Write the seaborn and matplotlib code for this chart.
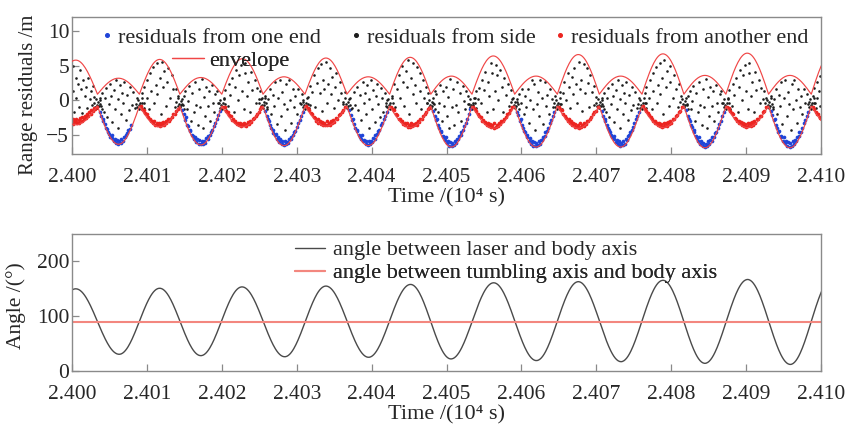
import numpy as np
import pandas as pd
import matplotlib
matplotlib.use("Agg")
import matplotlib.pyplot as plt
from matplotlib.lines import Line2D
import seaborn as sns

# All times are seconds after 24000 s (axis shows 10^4 s), residuals in metres.

# black points: residuals from side
side_pts = [
    (0.1, 4.9), (0.2, 1.3), (0.3, -1.6), (0.5, 3.2), (0.6, 0.4), (0.8, 2.4), (0.9, -0.9), (1.1, 4.4), (1.2, 1.6), (1.4, -1.8),
    (1.5, 3.0), (1.7, 0.7), (1.9, 2.0), (2.0, -1.1), (2.2, 3.3), (2.4, 0.2), (2.5, 1.4), (2.7, -0.6), (2.8, 2.1), (3.0, 0.5),
    (3.7, 0.1), (3.85, -0.8), (4.0, 1.0), (4.25, -1.6), (4.4, 0.4), (4.55, 1.8), (4.7, -2.4), (4.9, -0.5), (5.1, 2.4), (5.2, 0.7),
    (5.4, -3.1), (5.6, 1.5), (5.75, -1.2), (5.9, 3.0), (6.1, -3.9), (6.2, 0.2), (6.4, 2.2), (6.55, -2.0), (6.7, 1.1), (6.85, -0.3),
    (7.0, 2.7), (7.2, -2.8), (7.35, 0.8), (7.6, -1.4), (7.75, 1.9), (7.95, -0.6), (8.2, 1.2), (8.4, -1.1), (8.7, 0.4),
    (9.35, 1.1), (9.55, -0.4), (9.6, 1.9), (9.95, 0.3), (10.05, 2.9), (10.3, -1.2), (10.45, 3.9), (10.5, 1.4), (10.85, 4.8), (11.0, -0.3),
    (11.15, 2.2), (11.35, 5.4), (11.4, 0.9), (11.7, 3.3), (11.85, -1.9), (12.0, 5.5), (12.2, 1.9), (12.3, 4.2), (12.55, -0.8), (12.75, 2.7),
    (12.8, 4.6), (13.1, 0.4), (13.3, 3.6), (13.55, 1.6), (13.75, -0.9), (13.95, 1.6), (14.2, 0.7),
    (14.75, -0.5), (14.9, 0.6), (15.15, 1.4), (15.3, -1.2), (15.5, -0.1), (15.65, 2.1), (15.85, -2.9), (16.0, 1.0), (16.3, -1.7), (16.45, 2.7),
    (16.55, -0.6), (16.8, -3.6), (16.95, 1.6), (17.05, -1.0), (17.3, 3.1), (17.45, -4.0), (17.6, 0.5), (17.8, -2.3), (17.9, 2.0), (18.1, -0.8),
    (18.25, 1.3), (18.45, -3.0), (18.65, 2.2), (18.8, -0.3), (19.0, -1.7), (19.15, 0.9), (19.4, 1.4), (19.6, -0.4),
    (20.3, 0.2), (20.45, 1.5), (20.8, -0.8), (20.9, 2.4), (21.15, 0.8), (21.4, 3.3), (21.6, -1.6), (21.75, 2.0), (21.9, 4.4), (22.2, 0.1),
    (22.3, 3.6), (22.5, 5.1), (22.65, 1.3), (22.9, -1.2), (23.05, 3.9), (23.15, 5.4), (23.4, 0.6), (23.5, 2.6), (23.7, -1.7), (23.9, 4.1),
    (24.05, 1.5), (24.4, 2.9), (24.5, -0.3), (24.7, 1.8), (24.9, 0.2), (25.1, 1.4), (25.35, 0.3),
    (25.8, 0.6), (26.05, -0.9), (26.2, 0.2), (26.45, 1.7), (26.6, -1.9), (26.85, 0.8), (27.0, -0.8), (27.15, 2.6), (27.35, -3.4), (27.5, 0.3),
    (27.75, 2.9), (27.9, -2.2), (28.1, 1.2), (28.25, -0.5), (28.45, -4.2), (28.6, 2.4), (28.75, -1.3), (28.95, 3.0), (29.1, 0.1), (29.25, -3.2),
    (29.45, 1.6), (29.65, -1.0), (29.8, 0.6), (30.0, -2.0), (30.2, 1.7), (30.4, -0.4), (30.65, 0.9), (30.85, -0.2),
    (31.5, 0.5), (31.75, 2.1), (31.8, -0.6), (32.1, 1.2), (32.3, 3.6), (32.45, -1.0), (32.65, 2.5), (32.8, 4.6), (33.05, 1.0), (33.2, 5.2),
    (33.35, -1.5), (33.55, 3.0), (33.7, 1.7), (33.85, 5.6), (34.05, -0.4), (34.2, 2.3), (34.45, 4.7), (34.55, 0.9), (34.75, 3.4), (35.0, -1.1),
    (35.1, 2.0), (35.3, 4.0), (35.55, 0.1), (35.75, 2.6), (35.95, 1.0), (36.15, -0.5), (36.4, 1.2),
    (42.1, 0.1), (41.95, -0.8), (41.8, 1.0), (41.55, -1.6), (41.4, 0.4), (41.25, 1.8), (41.1, -2.4), (40.9, -0.5), (40.7, 2.4), (40.6, 0.7),
    (40.4, -3.1), (40.2, 1.5), (40.05, -1.2), (39.9, 3.0), (39.7, -3.9), (39.6, 0.2), (39.4, 2.2), (39.25, -2.0), (39.1, 1.1), (38.95, -0.3),
    (38.8, 2.7), (38.6, -2.8), (38.45, 0.8), (38.2, -1.4), (38.05, 1.9), (37.85, -0.6), (37.6, 1.2), (37.4, -1.1), (37.1, 0.4),
    (47.55, 1.1), (47.35, -0.4), (47.3, 1.9), (46.95, 0.3), (46.85, 2.9), (46.6, -1.2), (46.45, 3.9), (46.4, 1.4), (46.05, 4.8), (45.9, -0.3),
    (45.75, 2.2), (45.55, 5.4), (45.5, 0.9), (45.2, 3.3), (45.05, -1.9), (44.9, 5.8), (44.7, 1.9), (44.6, 4.2), (44.35, -0.8), (44.15, 2.7),
    (44.1, 4.9), (43.8, 0.4), (43.6, 3.6), (43.35, 1.6), (43.15, -0.9), (42.95, 2.4), (42.7, 0.7),
    (53.05, -0.5), (52.9, 0.6), (52.65, 1.4), (52.5, -1.2), (52.3, -0.1), (52.15, 2.1), (51.95, -2.9), (51.8, 1.0), (51.5, -1.7), (51.35, 2.7),
    (51.25, -0.6), (51.0, -3.6), (50.85, 1.6), (50.75, -1.0), (50.5, 3.1), (50.35, -4.0), (50.2, 0.5), (50.0, -2.3), (49.9, 2.0), (49.7, -0.8),
    (49.55, 1.3), (49.35, -3.0), (49.15, 2.2), (49.0, -0.3), (48.8, -1.7), (48.65, 0.9), (48.4, 1.4), (48.2, -0.4),
    (58.8, 0.2), (58.65, 1.5), (58.3, -0.8), (58.2, 2.4), (57.95, 0.8), (57.7, 3.3), (57.5, -1.6), (57.35, 2.0), (57.2, 4.4), (56.9, 0.1),
    (56.8, 3.6), (56.6, 5.1), (56.45, 1.3), (56.2, -1.2), (56.05, 3.9), (55.95, 5.4), (55.7, 0.6), (55.6, 2.6), (55.4, -1.7), (55.2, 4.1),
    (55.05, 1.5), (54.7, 2.9), (54.6, -0.3), (54.4, 1.8), (54.2, 0.2), (54.0, 1.4), (53.75, 0.3),
    (64.5, 0.6), (64.25, -0.9), (64.1, 0.2), (63.85, 1.7), (63.7, -1.9), (63.45, 0.8), (63.3, -0.8), (63.15, 2.6), (62.95, -3.4), (62.8, 0.3),
    (62.55, 2.9), (62.4, -2.2), (62.2, 1.2), (62.05, -0.5), (61.85, -4.2), (61.7, 2.4), (61.55, -1.3), (61.35, 3.0), (61.2, 0.1), (61.05, -3.2),
    (60.85, 1.6), (60.65, -1.0), (60.5, 0.6), (60.3, -2.0), (60.1, 1.7), (59.9, -0.4), (59.65, 0.9), (59.45, -0.2),
    (70.0, 0.5), (69.75, 2.1), (69.7, -0.6), (69.4, 1.2), (69.2, 3.6), (69.05, -1.0), (68.85, 2.5), (68.7, 4.6), (68.45, 1.0), (68.3, 5.2),
    (68.15, -1.5), (67.95, 3.0), (67.8, 1.7), (67.65, 5.6), (67.45, -0.4), (67.3, 2.3), (67.05, 4.7), (66.95, 0.9), (66.75, 3.4), (66.5, -1.1),
    (66.4, 2.0), (66.2, 4.0), (65.95, 0.1), (65.75, 2.6), (65.55, 1.0), (65.35, -0.5), (65.1, 1.2),
    (70.7, 0.1), (70.85, -0.8), (71.0, 1.0), (71.25, -1.6), (71.4, 0.4), (71.55, 1.8), (71.7, -2.4), (71.9, -0.5), (72.1, 2.4), (72.2, 0.7),
    (72.4, -3.1), (72.6, 1.5), (72.75, -1.2), (72.9, 3.0), (73.1, -3.9), (73.2, 0.2), (73.4, 2.2), (73.55, -2.0), (73.7, 1.1), (73.85, -0.3),
    (74.0, 2.7), (74.2, -2.8), (74.35, 0.8), (74.6, -1.4), (74.75, 1.9), (74.95, -0.6), (75.2, 1.2), (75.4, -1.1), (75.7, 0.4),
    (76.45, 1.1), (76.65, -0.4), (76.7, 1.9), (77.05, 0.3), (77.15, 2.9), (77.4, -1.2), (77.55, 3.9), (77.6, 1.4), (77.95, 4.8), (78.1, -0.3),
    (78.25, 2.2), (78.45, 5.4), (78.5, 0.9), (78.8, 3.3), (78.95, -1.9), (79.1, 5.8), (79.3, 1.9), (79.4, 4.2), (79.65, -0.8), (79.85, 2.7),
    (79.9, 4.9), (80.2, 0.4), (80.4, 3.6), (80.65, 1.6), (80.85, -0.9), (81.05, 2.4), (81.3, 0.7),
    (82.05, -0.5), (82.2, 0.6), (82.45, 1.4), (82.6, -1.2), (82.8, -0.1), (82.95, 2.1), (83.15, -2.9), (83.3, 1.0), (83.6, -1.7), (83.75, 2.7),
    (83.85, -0.6), (84.1, -3.6), (84.25, 1.6), (84.35, -1.0), (84.6, 3.1), (84.75, -4.0), (84.9, 0.5), (85.1, -2.3), (85.2, 2.0), (85.4, -0.8),
    (85.55, 1.3), (85.75, -3.0), (85.95, 2.2), (86.1, -0.3), (86.3, -1.7), (86.45, 0.9), (86.7, 1.4), (86.9, -0.4),
    (87.6, 0.2), (87.75, 1.5), (88.1, -0.8), (88.2, 2.4), (88.45, 0.8), (88.7, 3.3), (88.9, -1.6), (89.05, 2.0), (89.2, 4.4), (89.5, 0.1),
    (89.6, 3.6), (89.8, 5.1), (89.95, 1.3), (90.2, -1.2), (90.35, 3.9), (90.45, 5.4), (90.7, 0.6), (90.8, 2.6), (91.0, -1.7), (91.2, 4.1),
    (91.35, 1.5), (91.7, 2.9), (91.8, -0.3), (92.0, 1.8), (92.2, 0.2), (92.4, 1.4), (92.65, 0.3),
    (93.3, 0.6), (93.55, -0.9), (93.7, 0.2), (93.95, 1.7), (94.1, -1.9), (94.35, 0.8), (94.5, -0.8), (94.65, 2.6), (94.85, -3.4), (95.0, 0.3),
    (95.25, 2.9), (95.4, -2.2), (95.6, 1.2), (95.75, -0.5), (95.95, -4.2), (96.1, 2.4), (96.25, -1.3), (96.45, 3.0), (96.6, 0.1), (96.75, -3.2),
    (96.95, 1.6), (97.15, -1.0), (97.3, 0.6), (97.5, -2.0), (97.7, 1.7), (97.9, -0.4), (98.15, 0.9), (98.35, -0.2),
    (98.9, 0.6), (99.1, 1.8), (99.2, -0.4), (99.4, 2.7), (99.5, 0.3), (99.7, 1.4), (99.8, 3.5), (99.9, -0.8),
    # dense knots where the laser is square to the body axis
    (2.9, -0.3), (3.1, -0.9), (3.2, 0.2), (3.3, -0.6), (3.4, -1.1), (3.5, -0.2), (3.6, -0.8), (3.7, 0.3), (3.8, -0.5), (4.0, -1.3),
    (8.5, -0.5), (8.7, -1.0), (8.8, 0.1), (8.9, -0.7), (9.0, -1.3), (9.1, -0.3), (9.2, -0.9), (9.3, 0.4), (9.4, -0.4), (9.6, -1.1),
    (13.9, -0.2), (14.1, -0.8), (14.2, 0.3), (14.3, -0.5), (14.4, -1.0), (14.5, -0.1), (14.6, -0.7), (14.7, 0.2), (14.8, -0.6), (15.0, -1.2),
    (19.5, -0.4), (19.7, -1.1), (19.8, 0.1), (19.9, -0.7), (20.0, -1.2), (20.1, -0.3), (20.2, -0.9), (20.3, 0.4), (20.4, -0.5), (20.6, -1.4),
    (25.0, -0.3), (25.2, -0.8), (25.3, 0.2), (25.4, -0.6), (25.5, -1.1), (25.6, -0.2), (25.7, -0.7), (25.8, 0.3), (25.9, -0.4), (26.1, -1.2),
    (30.6, -0.5), (30.8, -1.0), (30.9, 0.0), (31.0, -0.6), (31.1, -1.3), (31.2, -0.3), (31.3, -0.8), (31.4, 0.3), (31.5, -0.5), (31.7, -1.1),
    (36.2, -0.2), (36.4, -0.9), (36.5, 0.3), (36.6, -0.5), (36.7, -1.1), (36.8, -0.2), (36.9, -0.8), (37.0, 0.2), (37.1, -0.6), (37.3, -1.3),
    (41.9, -0.4), (42.1, -1.0), (42.2, 0.2), (42.3, -0.7), (42.4, -1.2), (42.5, -0.3), (42.6, -0.9), (42.7, 0.3), (42.8, -0.4), (43.0, -1.2),
    (47.4, -0.3), (47.6, -0.9), (47.7, 0.1), (47.8, -0.6), (47.9, -1.1), (48.0, -0.2), (48.1, -0.8), (48.2, 0.4), (48.3, -0.5), (48.5, -1.3),
    (52.9, -0.5), (53.1, -1.0), (53.2, 0.2), (53.3, -0.6), (53.4, -1.2), (53.5, -0.3), (53.6, -0.7), (53.7, 0.3), (53.8, -0.4), (54.0, -1.1),
    (58.6, -0.2), (58.8, -0.9), (58.9, 0.3), (59.0, -0.6), (59.1, -1.1), (59.2, -0.2), (59.3, -0.8), (59.4, 0.2), (59.5, -0.5), (59.7, -1.2),
    (64.3, -0.4), (64.5, -1.0), (64.6, 0.1), (64.7, -0.7), (64.8, -1.2), (64.9, -0.3), (65.0, -0.9), (65.1, 0.3), (65.2, -0.5), (65.4, -1.3),
    (69.9, -0.3), (70.1, -0.8), (70.2, 0.2), (70.3, -0.6), (70.4, -1.1), (70.5, -0.2), (70.6, -0.8), (70.7, 0.4), (70.8, -0.5), (71.0, -1.2),
    (75.6, -0.5), (75.8, -1.1), (75.9, 0.1), (76.0, -0.7), (76.1, -1.3), (76.2, -0.3), (76.3, -0.9), (76.4, 0.3), (76.5, -0.4), (76.7, -1.1),
    (81.2, -0.2), (81.4, -0.9), (81.5, 0.2), (81.6, -0.5), (81.7, -1.0), (81.8, -0.1), (81.9, -0.7), (82.0, 0.3), (82.1, -0.6), (82.3, -1.3),
    (86.8, -0.4), (87.0, -1.0), (87.1, 0.2), (87.2, -0.7), (87.3, -1.2), (87.4, -0.3), (87.5, -0.9), (87.6, 0.3), (87.7, -0.4), (87.9, -1.2),
    (92.5, -0.3), (92.7, -0.9), (92.8, 0.1), (92.9, -0.6), (93.0, -1.1), (93.1, -0.2), (93.2, -0.8), (93.3, 0.4), (93.4, -0.5), (93.6, -1.3),
    (98.2, -0.5), (98.4, -1.0), (98.5, 0.2), (98.6, -0.6), (98.7, -1.2), (98.8, -0.3), (98.9, -0.9), (99.0, 0.3), (99.1, -0.4), (99.3, -1.1),
]

# blue points: residuals from one end
one_end_pts = [
    (3.7, -1.6), (3.9, -2.2), (4.1, -2.6), (4.2, -2.9), (4.4, -3.4), (4.5, -3.9), (4.7, -4.1), (4.8, -4.6), (5.0, -4.8), (5.1, -5.3),
    (5.3, -5.4), (5.4, -5.0), (5.6, -5.8), (5.7, -5.5), (5.9, -6.1), (6.0, -5.7), (6.2, -6.2), (6.3, -5.9), (6.5, -6.1), (6.6, -5.6),
    (6.8, -5.9), (6.9, -5.3), (7.1, -5.2), (7.2, -4.9), (7.4, -4.7), (7.5, -4.2), (7.7, -4.1), (7.9, -3.5),
    (14.7, -1.4), (14.9, -2.0), (15.1, -2.8), (15.2, -2.4), (15.4, -3.6), (15.5, -3.7), (15.7, -4.4), (15.8, -4.3), (16.0, -5.0), (16.1, -5.1),
    (16.3, -5.6), (16.4, -5.2), (16.6, -6.0), (16.7, -5.6), (16.9, -6.2), (17.0, -5.7), (17.2, -6.3), (17.3, -5.9), (17.5, -6.2), (17.6, -5.8),
    (17.8, -6.1), (17.9, -5.4), (18.1, -5.5), (18.2, -5.1), (18.4, -4.9), (18.5, -4.5), (18.7, -4.2), (18.9, -3.7), (19.1, -3.2), (19.3, -2.7),
    (19.5, -2.1), (19.7, -1.5),
    (25.8, -1.5), (26.0, -2.3), (26.2, -2.6), (26.3, -2.9), (26.5, -3.6), (26.6, -3.9), (26.8, -4.2), (26.9, -4.7), (27.1, -5.0), (27.2, -4.8),
    (27.4, -5.6), (27.5, -5.3), (27.7, -6.0), (27.8, -5.5), (28.0, -6.2), (28.1, -5.9), (28.3, -6.4), (28.4, -5.8), (28.6, -6.3), (28.7, -6.0),
    (28.9, -6.1), (29.0, -5.6), (29.2, -5.5), (29.3, -5.2), (29.5, -5.0), (29.6, -4.6), (29.8, -4.4), (30.0, -3.8), (30.2, -3.3), (30.4, -2.8),
    (30.6, -2.3), (30.8, -1.6),
    (37.0, -1.4), (37.2, -2.1), (37.4, -2.8), (37.5, -2.6), (37.7, -3.4), (37.8, -3.9), (38.0, -4.4), (38.1, -4.3), (38.3, -5.0), (38.4, -5.2),
    (38.6, -5.6), (38.7, -5.0), (38.9, -5.9), (39.0, -5.7), (39.2, -6.3), (39.3, -5.9), (39.5, -6.4), (39.6, -5.8), (39.8, -6.2), (39.9, -5.9),
    (40.1, -6.0), (40.2, -5.4), (40.4, -5.5), (40.5, -5.0), (40.7, -4.8), (40.8, -4.4), (41.0, -4.2), (41.2, -3.6), (41.4, -3.2), (41.6, -2.7),
    (41.8, -2.2), (42.0, -1.6),
    (48.2, -1.5), (48.4, -2.2), (48.6, -2.8), (48.7, -2.6), (48.9, -3.6), (49.0, -3.9), (49.2, -4.5), (49.3, -4.4), (49.5, -5.1), (49.6, -5.3),
    (49.8, -5.7), (49.9, -5.2), (50.1, -6.1), (50.2, -5.8), (50.4, -6.5), (50.5, -6.0), (50.7, -6.5), (50.8, -6.1), (51.0, -6.4), (51.1, -5.8),
    (51.3, -6.1), (51.4, -5.6), (51.6, -5.6), (51.7, -5.1), (51.9, -4.9), (52.0, -4.6), (52.2, -4.3), (52.4, -3.7), (52.6, -3.3), (52.8, -2.6),
    (53.0, -1.9), (53.2, -1.3),
    (59.4, -1.6), (59.6, -2.1), (59.8, -2.9), (59.9, -2.7), (60.1, -3.6), (60.2, -4.0), (60.4, -4.4), (60.5, -4.6), (60.7, -5.2), (60.8, -5.0),
    (61.0, -5.8), (61.1, -5.4), (61.3, -6.2), (61.4, -5.8), (61.6, -6.5), (61.7, -6.0), (61.9, -6.6), (62.0, -6.1), (62.2, -6.4), (62.3, -5.9),
    (62.5, -6.2), (62.6, -5.7), (62.8, -5.7), (62.9, -5.2), (63.1, -5.1), (63.2, -4.6), (63.4, -4.4), (63.6, -3.9), (63.8, -3.3), (64.0, -2.8),
    (64.2, -2.3), (64.4, -1.7),
    (70.7, -1.5), (70.9, -2.2), (71.1, -2.6), (71.2, -3.0), (71.4, -3.5), (71.5, -3.9), (71.7, -4.3), (71.8, -4.6), (72.0, -4.9), (72.1, -5.3),
    (72.3, -5.6), (72.4, -5.1), (72.6, -6.0), (72.7, -5.7), (72.9, -6.3), (73.0, -5.9), (73.2, -6.5), (73.3, -6.1), (73.5, -6.4), (73.6, -5.8),
    (73.8, -6.2), (73.9, -5.6), (74.1, -5.7), (74.2, -5.1), (74.4, -5.0), (74.5, -4.5), (74.7, -4.3), (74.9, -3.8), (75.1, -3.3), (75.3, -2.7),
    (75.5, -2.3), (75.7, -1.6),
    (82.0, -1.4), (82.2, -2.2), (82.4, -2.7), (82.5, -2.9), (82.7, -3.6), (82.8, -3.8), (83.0, -4.5), (83.1, -4.3), (83.3, -5.1), (83.4, -5.4),
    (83.6, -5.8), (83.7, -5.2), (83.9, -6.2), (84.0, -5.8), (84.2, -6.6), (84.3, -6.1), (84.5, -6.7), (84.6, -6.2), (84.8, -6.5), (84.9, -5.9),
    (85.1, -6.3), (85.2, -5.7), (85.4, -5.8), (85.5, -5.3), (85.7, -5.2), (85.8, -4.7), (86.0, -4.5), (86.2, -3.9), (86.4, -3.4), (86.6, -2.9),
    (86.8, -2.3), (87.0, -1.7),
    (93.3, -1.5), (93.5, -2.1), (93.7, -2.8), (93.8, -2.6), (94.0, -3.6), (94.1, -3.9), (94.3, -4.5), (94.4, -4.4), (94.6, -5.1), (94.7, -5.3),
    (94.9, -5.8), (95.0, -5.3), (95.2, -6.1), (95.3, -5.8), (95.5, -6.5), (95.6, -6.0), (95.8, -6.7), (95.9, -6.1), (96.1, -6.5), (96.2, -5.9),
    (96.4, -6.3), (96.5, -5.7), (96.7, -5.8), (96.8, -5.2), (97.0, -5.1), (97.1, -4.6), (97.3, -4.5), (97.5, -3.9), (97.7, -3.3), (97.9, -2.8),
    (98.1, -2.3), (98.3, -1.6),
]

# red points: residuals from another end
another_end_pts = [
    (0.0, -3.2), (0.1, -2.7), (0.2, -3.4), (0.3, -2.9), (0.5, -3.1), (0.6, -2.6), (0.7, -3.3), (0.9, -2.8), (1.0, -3.2), (1.1, -2.5),
    (1.3, -2.9), (1.4, -2.4), (1.6, -2.7), (1.7, -2.2), (1.9, -2.5), (2.0, -1.9), (2.2, -2.2), (2.3, -1.7), (2.5, -1.9), (2.6, -1.4),
    (2.8, -1.5), (2.9, -1.1), (3.1, -1.2), (3.3, -0.9),
    (9.2, -0.8), (9.4, -1.2), (9.6, -1.4), (9.8, -1.8), (10.0, -2.0), (10.2, -2.4), (10.4, -2.7), (10.5, -2.9), (10.7, -3.0), (10.8, -3.3),
    (11.0, -3.0), (11.1, -3.5), (11.3, -3.3), (11.4, -3.6), (11.6, -3.2), (11.7, -3.7), (11.9, -3.3), (12.0, -3.5), (12.2, -3.1), (12.3, -3.6),
    (12.5, -2.9), (12.6, -3.3), (12.8, -2.7), (12.9, -3.0), (13.1, -2.6), (13.3, -2.4), (13.5, -2.0), (13.7, -1.9), (13.9, -1.5), (14.1, -1.2),
    (20.2, -0.9), (20.4, -1.0), (20.6, -1.5), (20.8, -1.7), (21.0, -2.1), (21.2, -2.3), (21.4, -2.8), (21.5, -2.7), (21.7, -3.1), (21.8, -3.0),
    (22.0, -3.4), (22.1, -3.2), (22.3, -3.6), (22.4, -3.3), (22.6, -3.7), (22.7, -3.4), (22.9, -3.6), (23.0, -3.2), (23.2, -3.7), (23.3, -3.4),
    (23.5, -3.1), (23.6, -3.4), (23.8, -2.9), (23.9, -3.1), (24.1, -2.7), (24.3, -2.5), (24.5, -2.3), (24.7, -1.9), (24.9, -1.7), (25.1, -1.3),
    (25.3, -1.0),
    (31.3, -0.8), (31.5, -1.1), (31.7, -1.4), (31.9, -1.8), (32.1, -1.9), (32.3, -2.4), (32.5, -2.5), (32.6, -2.9), (32.8, -2.7), (32.9, -3.2),
    (33.1, -3.0), (33.2, -3.4), (33.4, -3.1), (33.5, -3.5), (33.7, -3.2), (33.8, -3.6), (34.0, -3.0), (34.1, -3.5), (34.3, -3.2), (34.4, -3.5),
    (34.6, -2.9), (34.7, -3.3), (34.9, -2.8), (35.0, -3.1), (35.2, -2.5), (35.4, -2.6), (35.6, -2.1), (35.8, -2.0), (36.0, -1.6), (36.2, -1.4),
    (36.4, -1.0),
    (42.6, -0.9), (42.8, -1.2), (43.0, -1.4), (43.2, -2.0), (43.4, -2.1), (43.6, -2.6), (43.8, -2.6), (43.9, -3.0), (44.1, -2.9), (44.2, -3.4),
    (44.4, -3.2), (44.5, -3.6), (44.7, -3.3), (44.8, -3.8), (45.0, -3.5), (45.1, -3.8), (45.3, -3.2), (45.4, -3.7), (45.6, -3.4), (45.7, -3.6),
    (45.9, -3.2), (46.0, -3.5), (46.2, -3.0), (46.3, -3.1), (46.5, -2.7), (46.7, -2.6), (46.9, -2.2), (47.1, -2.0), (47.3, -1.7), (47.5, -1.3),
    (47.7, -1.1),
    (53.6, -0.9), (53.8, -1.3), (54.0, -1.5), (54.2, -1.9), (54.4, -2.2), (54.6, -2.4), (54.8, -2.9), (54.9, -2.8), (55.1, -3.2), (55.2, -3.1),
    (55.4, -3.5), (55.5, -3.3), (55.7, -3.7), (55.8, -3.4), (56.0, -3.8), (56.1, -3.5), (56.3, -3.9), (56.4, -3.3), (56.6, -3.8), (56.7, -3.5),
    (56.9, -3.7), (57.0, -3.2), (57.2, -3.4), (57.3, -3.0), (57.5, -2.9), (57.7, -2.6), (57.9, -2.4), (58.1, -2.0), (58.3, -1.8), (58.5, -1.4),
    (58.8, -1.0),
    (65.0, -0.9), (65.2, -1.3), (65.4, -1.4), (65.6, -2.0), (65.8, -2.2), (66.0, -2.5), (66.2, -2.9), (66.3, -2.7), (66.5, -3.3), (66.6, -3.0),
    (66.8, -3.6), (66.9, -3.3), (67.1, -3.8), (67.2, -3.4), (67.4, -3.8), (67.5, -3.5), (67.7, -3.9), (67.8, -3.3), (68.0, -3.8), (68.1, -3.6),
    (68.3, -3.7), (68.4, -3.2), (68.6, -3.4), (68.7, -3.0), (68.9, -2.9), (69.1, -2.6), (69.3, -2.4), (69.5, -2.0), (69.7, -1.7), (69.9, -1.5),
    (70.2, -1.0),
    (76.3, -0.8), (76.5, -1.2), (76.7, -1.5), (76.9, -1.8), (77.1, -2.1), (77.3, -2.4), (77.5, -2.7), (77.6, -2.9), (77.8, -3.0), (77.9, -3.3),
    (78.1, -3.2), (78.2, -3.6), (78.4, -3.3), (78.5, -3.7), (78.7, -3.4), (78.8, -3.8), (79.0, -3.2), (79.1, -3.7), (79.3, -3.3), (79.4, -3.7),
    (79.6, -3.1), (79.7, -3.4), (79.9, -2.9), (80.0, -3.2), (80.2, -2.6), (80.4, -2.7), (80.6, -2.2), (80.8, -2.1), (81.0, -1.7), (81.2, -1.5),
    (81.4, -1.0),
    (87.5, -0.9), (87.7, -1.1), (87.9, -1.5), (88.1, -1.8), (88.3, -2.0), (88.5, -2.5), (88.7, -2.6), (88.8, -2.9), (89.0, -3.0), (89.1, -3.3),
    (89.3, -3.1), (89.4, -3.5), (89.6, -3.3), (89.7, -3.7), (89.9, -3.4), (90.0, -3.8), (90.2, -3.3), (90.3, -3.7), (90.5, -3.2), (90.6, -3.7),
    (90.8, -3.1), (90.9, -3.5), (91.1, -3.0), (91.2, -3.3), (91.4, -2.6), (91.6, -2.7), (91.8, -2.2), (92.0, -2.2), (92.2, -1.7), (92.4, -1.5),
    (92.7, -1.0),
    (98.9, -1.0), (99.1, -1.3), (99.3, -1.6), (99.5, -2.0), (99.6, -1.9), (99.8, -2.4), (99.9, -2.5),
]

# envelope: times where laser is at 90 deg to body axis, and the extreme of each lobe between them
env_cross_t = [-2.4, 3.4, 9.0, 14.4, 20.0, 25.5, 31.1, 36.7, 42.4, 47.9, 53.4, 59.1, 64.8, 70.4, 76.1, 81.7, 87.3, 93.0, 98.7, 104.3]
env_upper_peak = [5.8, 3.2, 5.9, 3.3, 6.0, 3.4, 6.1, 3.4, 6.2, 3.5, 6.4, 3.5, 6.6, 3.5, 6.7, 3.6, 6.8, 3.6, 6.9]
env_lower_peak = [-3.5, -6.3, -3.8, -6.4, -3.8, -6.5, -3.7, -6.5, -3.9, -6.7, -4.0, -6.7, -4.0, -6.7, -3.9, -6.8, -3.9, -6.8, -3.9]
env_upper_cross = 0.9
env_lower_cross = -0.8

# bottom panel: turning points of the laser / body axis angle (deg)
angle_turn_t = [-5.2, 0.5, 6.3, 11.7, 17.2, 22.7, 28.4, 33.9, 39.6, 45.2, 50.6, 56.3,
                62.0, 67.6, 73.3, 78.9, 84.5, 90.2, 95.9, 101.5]
angle_turn_deg = [32, 150, 30.5, 151, 28, 153.5, 26, 155, 25, 158, 22, 161,
                  19, 163, 17, 165.5, 14, 167, 12, 169]
tumble_axis_deg = 90

x_ticks = [2.400, 2.401, 2.402, 2.403, 2.404, 2.405, 2.406, 2.407, 2.408, 2.409, 2.410]


def to_axis(t):
    # seconds after 24000 s -> units of 10^4 s
    return (24000.0 + np.asarray(t, dtype=float)) / 1e4


def lobes(cross_t, peaks, base, n=40):
    # arch from one crossing to the next through the lobe extreme
    ts, ys = [], []
    for a, b, p in zip(cross_t[:-1], cross_t[1:], peaks):
        s = np.linspace(0, 1, n)
        ts.append(a + (b - a) * s)
        ys.append(base + (p - base) * np.sin(np.pi * s))
    return np.concatenate(ts), np.concatenate(ys)


def swings(turn_t, turn_v, n=60):
    # smooth swing between turning points
    ts, ys = [], []
    for a, b, va, vb in zip(turn_t[:-1], turn_t[1:], turn_v[:-1], turn_v[1:]):
        s = np.linspace(0, 1, n)
        g = 0.5 * (1 - np.cos(np.pi * s))
        ts.append(a + (b - a) * s)
        ys.append(va + (vb - va) * g)
    return np.concatenate(ts), np.concatenate(ys)


def pts_frame(pts):
    df = pd.DataFrame(pts, columns=["t", "r"])
    df["x"] = to_axis(df["t"])
    return df


sns.set_theme(style="ticks")
plt.rcParams["font.family"] = ["Liberation Serif", "DejaVu Serif"]
plt.rcParams["axes.unicode_minus"] = True

side_color = "#1c1c1c"
one_end_color = "#1f44d8"
another_end_color = "#ec2420"
env_color = "#f04646"
angle_color = "#4a4a4a"
tumble_color = "#f3877f"
frame_color = "#8a8a8a"

fig = plt.figure(figsize=(8.46, 4.30), dpi=100)
ax1 = fig.add_axes([72 / 846, 1 - 154 / 430, 749 / 846, 137 / 430])
ax2 = fig.add_axes([72 / 846, 1 - 371 / 430, 749 / 846, 137 / 430])

# --- top panel
for pts, col, sz in [(side_pts, side_color, 3.5), (another_end_pts, another_end_color, 7),
                     (one_end_pts, one_end_color, 7)]:
    df = pts_frame(pts)
    sns.scatterplot(data=df, x="x", y="r", ax=ax1, color=col, s=sz, linewidth=0, legend=False, zorder=2)

ut, uy = lobes(env_cross_t, env_upper_peak, env_upper_cross)
lt, ly = lobes(env_cross_t, env_lower_peak, env_lower_cross)
sns.lineplot(x=to_axis(ut), y=uy, ax=ax1, color=env_color, lw=0.85, sort=False, estimator=None, zorder=3)
sns.lineplot(x=to_axis(lt), y=ly, ax=ax1, color=env_color, lw=0.85, sort=False, estimator=None, zorder=3)

ax1.set_xlim(2.400, 2.410)
ax1.set_ylim(-7.7, 12)
ax1.set_yticks([-5, 0, 5, 10])
ax1.set_ylabel("Range residuals /m", fontsize=15)
ax1.yaxis.set_label_coords(-0.045, 0.43)

# --- bottom panel
at, ay = swings(angle_turn_t, angle_turn_deg)
sns.lineplot(x=to_axis(at), y=ay, ax=ax2, color=angle_color, lw=1.0, sort=False, estimator=None)
ax2.axhline(tumble_axis_deg, color=tumble_color, lw=1.5)
ax2.set_xlim(2.400, 2.410)
ax2.set_ylim(0, 250)
ax2.set_yticks([0, 100, 200])
ax2.set_ylabel("Angle /(°)", fontsize=15.5)
ax2.yaxis.set_label_coords(-0.062, 0.474)

for ax in (ax1, ax2):
    ax.set_xticks(x_ticks)
    ax.set_xticklabels([f"{v:.3f}" for v in x_ticks])
    ax.set_xlabel("Time /(10⁴ s)", fontsize=16, labelpad=1)
    ax.tick_params(axis="both", direction="in", length=5, width=0.9, color=frame_color,
                   labelsize=15.5, top=False, right=False)
    ax.tick_params(axis="x", pad=10)
    ax.tick_params(axis="y", pad=2)
    for sp in ax.spines.values():
        sp.set_visible(True)
        sp.set_color(frame_color)
        sp.set_linewidth(1.0)


def dot(color):
    return Line2D([], [], ls="", marker="o", ms=2.6, mfc=color, mec=color)


leg_kw = dict(frameon=False, borderpad=0, borderaxespad=0, fontsize=16, loc="center left")
top_entries = [
    (dot(one_end_color), "residuals from one end", 0.0394, 0.847, 0.5, 0.25),
    (dot(side_color), "residuals from side", 0.3712, 0.847, 0.5, 0.25),
    (dot(another_end_color), "residuals from another end", 0.6442, 0.847, 0.5, 0.25),
    (Line2D([], [], color=env_color, lw=0.9), "envelope", 0.1335, 0.679, 1.45, 0.2),
]
for h, lab, x, y, hl, tp in top_entries:
    leg = ax1.legend(handles=[h], labels=[lab], bbox_to_anchor=(x, y),
                     handlelength=hl, handletextpad=tp, **leg_kw)
    ax1.add_artist(leg)

bottom_entries = [
    (Line2D([], [], color=angle_color, lw=1.0), "angle between laser and body axis", 0.883),
    (Line2D([], [], color=tumble_color, lw=1.5), "angle between tumbling axis and body axis", 0.715),
]
for h, lab, y in bottom_entries:
    leg = ax2.legend(handles=[h], labels=[lab], bbox_to_anchor=(0.2977, y),
                     handlelength=1.36, handletextpad=0.36, **leg_kw)
    ax2.add_artist(leg)

fig.savefig("out.png", dpi=100)
plt.close(fig)
